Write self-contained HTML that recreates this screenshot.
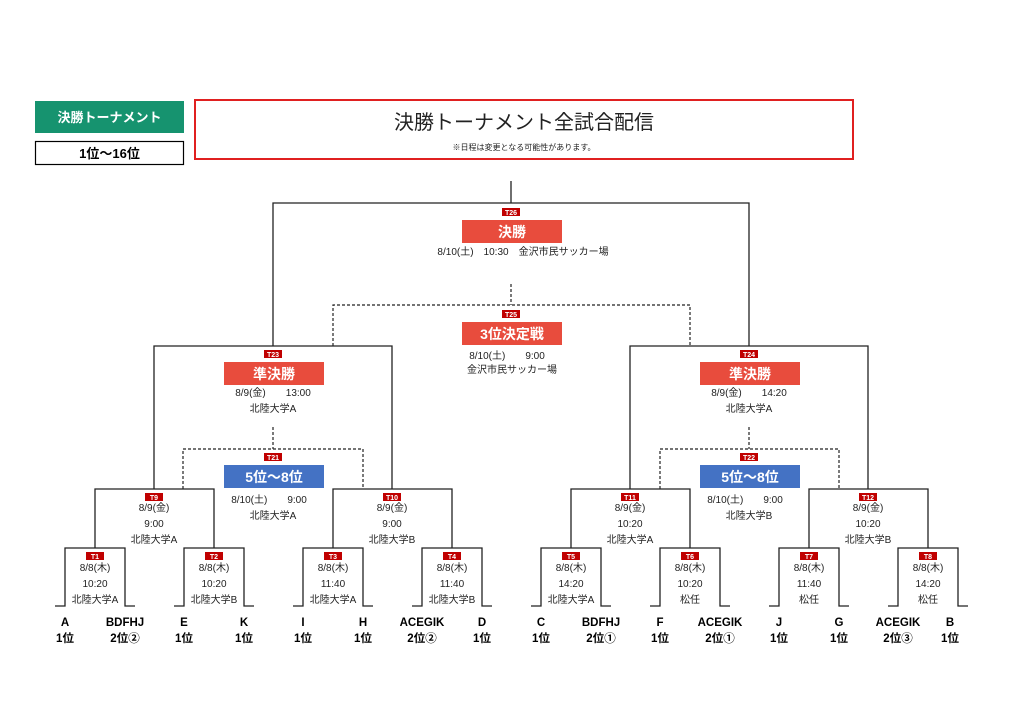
<!DOCTYPE html>
<html><head><meta charset="utf-8"><style>
html,body{margin:0;padding:0;background:#fff;}
svg{display:block;font-family:"Liberation Sans","Noto Sans CJK JP",sans-serif;}
</style></head><body>
<svg width="1024" height="725" viewBox="0 0 1024 725" xmlns="http://www.w3.org/2000/svg">
<rect x="35" y="101" width="149" height="32" fill="#16936f"/>
<text x="109.5" y="122" font-size="13" font-weight="bold" fill="#fff" text-anchor="middle">決勝トーナメント</text>
<rect x="35.5" y="141.5" width="148" height="23" fill="#fff" stroke="#000" stroke-width="1.2"/>
<text x="109.5" y="158" font-size="13" font-weight="bold" fill="#000" text-anchor="middle">1位～16位</text>
<rect x="195" y="100" width="658" height="59" fill="#fff" stroke="#e02020" stroke-width="2"/>
<text x="524" y="129" font-size="20" fill="#222" text-anchor="middle">決勝トーナメント全試合配信</text>
<text x="524" y="150" font-size="8" fill="#222" text-anchor="middle">※日程は変更となる可能性があります。</text>

<g fill="none" stroke="#222" stroke-width="1.3">
<path d="M511 181V203M273 346V203H749V346"/>
<path d="M154 489V346H392V489M630 489V346H868V489"/>
<path d="M95 548V489H214V548M333 548V489H452V548M571 548V489H690V548M809 548V489H928V548"/>
<path d="M55 606H65V548H125V606H135M174 606H184V548H244V606H254M293 606H303V548H363V606H373M412 606H422V548H482V606H492M531 606H541V548H601V606H611M650 606H660V548H720V606H730M769 606H779V548H839V606H849M888 606H898V548H958V606H968"/>
</g>
<g fill="none" stroke="#222" stroke-width="1.2" stroke-dasharray="3,2">
<path d="M511 284V305M333 346V305H690V346"/>
<path d="M273 427V449M183 489V449H363V489"/>
<path d="M749 427V449M660 489V449H839V489"/>
</g>

<g font-size="7" font-weight="bold" fill="#fff" text-anchor="middle">
<rect x="502" y="208" width="18" height="8" fill="#c00000"/><text x="511" y="215">T26</text>
<rect x="502" y="310" width="18" height="8" fill="#c00000"/><text x="511" y="317">T25</text>
<rect x="264" y="350" width="18" height="8" fill="#c00000"/><text x="273" y="357">T23</text>
<rect x="740" y="350" width="18" height="8" fill="#c00000"/><text x="749" y="357">T24</text>
<rect x="264" y="453" width="18" height="8" fill="#c00000"/><text x="273" y="460">T21</text>
<rect x="740" y="453" width="18" height="8" fill="#c00000"/><text x="749" y="460">T22</text>
<rect x="145" y="493" width="18" height="8" fill="#c00000"/><text x="154" y="500">T9</text>
<rect x="383" y="493" width="18" height="8" fill="#c00000"/><text x="392" y="500">T10</text>
<rect x="621" y="493" width="18" height="8" fill="#c00000"/><text x="630" y="500">T11</text>
<rect x="859" y="493" width="18" height="8" fill="#c00000"/><text x="868" y="500">T12</text>
<rect x="86" y="552" width="18" height="8" fill="#c00000"/><text x="95" y="559">T1</text>
<rect x="205" y="552" width="18" height="8" fill="#c00000"/><text x="214" y="559">T2</text>
<rect x="324" y="552" width="18" height="8" fill="#c00000"/><text x="333" y="559">T3</text>
<rect x="443" y="552" width="18" height="8" fill="#c00000"/><text x="452" y="559">T4</text>
<rect x="562" y="552" width="18" height="8" fill="#c00000"/><text x="571" y="559">T5</text>
<rect x="681" y="552" width="18" height="8" fill="#c00000"/><text x="690" y="559">T6</text>
<rect x="800" y="552" width="18" height="8" fill="#c00000"/><text x="809" y="559">T7</text>
<rect x="919" y="552" width="18" height="8" fill="#c00000"/><text x="928" y="559">T8</text>
</g>

<g font-size="14" font-weight="bold" fill="#fff" text-anchor="middle">
<rect x="462" y="220" width="100" height="23" fill="#e84c3d"/><text x="512" y="237">決勝</text>
<rect x="462" y="322" width="100" height="23" fill="#e84c3d"/><text x="512" y="339">3位決定戦</text>
<rect x="224" y="362" width="100" height="23" fill="#e84c3d"/><text x="274" y="379">準決勝</text>
<rect x="700" y="362" width="100" height="23" fill="#e84c3d"/><text x="750" y="379">準決勝</text>
<rect x="224" y="465" width="100" height="23" fill="#4472c4"/><text x="274" y="482">5位～8位</text>
<rect x="700" y="465" width="100" height="23" fill="#4472c4"/><text x="750" y="482">5位～8位</text>
</g>

<g font-size="10" fill="#222" text-anchor="middle">
<text x="523" y="255">8/10(土)　10:30　金沢市民サッカー場</text>
<text x="507" y="359">8/10(土)　　9:00</text>
<text x="512" y="373">金沢市民サッカー場</text>
<text x="273" y="396">8/9(金)　　13:00</text><text x="273" y="412">北陸大学A</text>
<text x="749" y="396">8/9(金)　　14:20</text><text x="749" y="412">北陸大学A</text>
<text x="269" y="503">8/10(土)　　9:00</text><text x="273" y="519">北陸大学A</text>
<text x="745" y="503">8/10(土)　　9:00</text><text x="749" y="519">北陸大学B</text>
<text x="154" y="511">8/9(金)</text><text x="154" y="527">9:00</text><text x="154" y="543">北陸大学A</text>
<text x="392" y="511">8/9(金)</text><text x="392" y="527">9:00</text><text x="392" y="543">北陸大学B</text>
<text x="630" y="511">8/9(金)</text><text x="630" y="527">10:20</text><text x="630" y="543">北陸大学A</text>
<text x="868" y="511">8/9(金)</text><text x="868" y="527">10:20</text><text x="868" y="543">北陸大学B</text>
<text x="95" y="571">8/8(木)</text><text x="95" y="587">10:20</text><text x="95" y="603">北陸大学A</text>
<text x="214" y="571">8/8(木)</text><text x="214" y="587">10:20</text><text x="214" y="603">北陸大学B</text>
<text x="333" y="571">8/8(木)</text><text x="333" y="587">11:40</text><text x="333" y="603">北陸大学A</text>
<text x="452" y="571">8/8(木)</text><text x="452" y="587">11:40</text><text x="452" y="603">北陸大学B</text>
<text x="571" y="571">8/8(木)</text><text x="571" y="587">14:20</text><text x="571" y="603">北陸大学A</text>
<text x="690" y="571">8/8(木)</text><text x="690" y="587">10:20</text><text x="690" y="603">松任</text>
<text x="809" y="571">8/8(木)</text><text x="809" y="587">11:40</text><text x="809" y="603">松任</text>
<text x="928" y="571">8/8(木)</text><text x="928" y="587">14:20</text><text x="928" y="603">松任</text>
</g>

<g font-size="11.5" font-weight="bold" fill="#000" text-anchor="middle">
<text x="65" y="626">A</text><text x="65" y="642">1位</text>
<text x="125" y="626">BDFHJ</text><text x="125" y="642">2位②</text>
<text x="184" y="626">E</text><text x="184" y="642">1位</text>
<text x="244" y="626">K</text><text x="244" y="642">1位</text>
<text x="303" y="626">I</text><text x="303" y="642">1位</text>
<text x="363" y="626">H</text><text x="363" y="642">1位</text>
<text x="422" y="626">ACEGIK</text><text x="422" y="642">2位②</text>
<text x="482" y="626">D</text><text x="482" y="642">1位</text>
<text x="541" y="626">C</text><text x="541" y="642">1位</text>
<text x="601" y="626">BDFHJ</text><text x="601" y="642">2位①</text>
<text x="660" y="626">F</text><text x="660" y="642">1位</text>
<text x="720" y="626">ACEGIK</text><text x="720" y="642">2位①</text>
<text x="779" y="626">J</text><text x="779" y="642">1位</text>
<text x="839" y="626">G</text><text x="839" y="642">1位</text>
<text x="898" y="626">ACEGIK</text><text x="898" y="642">2位③</text>
<text x="950" y="626">B</text><text x="950" y="642">1位</text>
</g>
</svg>
</body></html>
